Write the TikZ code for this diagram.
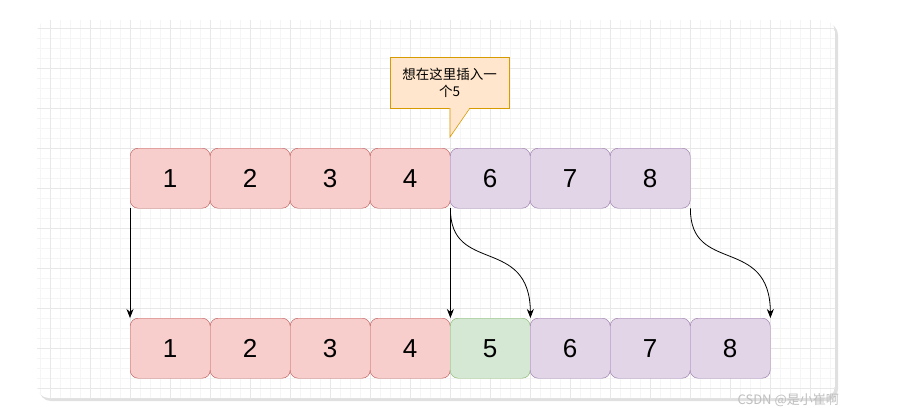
\documentclass[tikz,border=0pt]{standalone}
\usepackage{fontspec}
\setmainfont{Liberation Sans}
\newfontfamily\cjk{Noto Sans CJK SC}
\usetikzlibrary{arrows.meta}
\definecolor{redf}{HTML}{F8CECC}\definecolor{redd}{HTML}{B85450}
\definecolor{purf}{HTML}{E1D5E7}\definecolor{purd}{HTML}{9673A6}
\definecolor{grnf}{HTML}{D5E8D4}\definecolor{grnd}{HTML}{82B366}
\definecolor{orf}{HTML}{FFE6CC}\definecolor{ord}{HTML}{D79B00}
\tikzset{
 cell/.style={draw,minimum width=80pt,minimum height=60pt,rounded corners=8pt,inner sep=0pt,font=\fontsize{26}{28}\selectfont,anchor=north west},
 rc/.style={cell,fill=redf,draw=redd},
 pc/.style={cell,fill=purf,draw=purd},
 gc/.style={cell,fill=grnf,draw=grnd},
 arr/.style={-{Stealth[length=9pt,width=7pt]},line width=0.8pt}
}
\begin{document}
\begin{tikzpicture}[x=1pt,y=-1pt]
\useasboundingbox (0,0) rectangle (921,408);
\fill[white] (0,0) rectangle (921,408);
\fill[black!12,rounded corners=12pt] (39,23) rectangle (838,401);
\begin{scope}
\clip[rounded corners=12pt] (37,20) rectangle (835,398);
\fill[white] (37,20) rectangle (835,398);
\foreach \k in {0,...,81} \draw[black!4,line width=0.5pt] (30+10*\k,18) -- (30+10*\k,400);
\foreach \k in {0,...,38} \draw[black!4,line width=0.5pt] (30,18+10*\k) -- (840,18+10*\k);
\foreach \k in {0,...,20} \draw[black!9,line width=0.6pt] (50+40*\k,18) -- (50+40*\k,400);
\foreach \k in {0,...,9} \draw[black!9,line width=0.6pt] (30,28+40*\k) -- (840,28+40*\k);
\end{scope}
\foreach \i/\t/\s in {0/1/rc,1/2/rc,2/3/rc,3/4/rc,4/6/pc,5/7/pc,6/8/pc}
  \node[\s] (t\i) at (130+80*\i,148) {\t};
\foreach \i/\t/\s in {0/1/rc,1/2/rc,2/3/rc,3/4/rc,4/5/gc,5/6/pc,6/7/pc,7/8/pc}
  \node[\s] (b\i) at (130+80*\i,318) {\t};
\node[draw=ord,fill=orf,minimum width=119pt,minimum height=51pt,anchor=north west,inner sep=2pt,align=center,font=\cjk\fontsize{13.5}{17}\selectfont] (call) at (390,57) {想在这里插入一\\个5};
\coordinate (tip) at (450,137);
\fill[orf] (449.5,107) -- (tip) -- (470,107.3) -- cycle;
\draw[ord,line width=0.6pt] (450,108) -- (tip) -- (470,108);
\fill[orf] (450.4,106) rectangle (469.6,108.2);
\draw[arr] (t0.south west) -- (b0.north west);
\draw[arr] (t3.south east) -- (b3.north east);
\draw[arr] (t3.south east) .. controls (450,275) and (530,235) .. (b4.north east);
\draw[arr] (t6.south east) .. controls (690,275) and (770,235) .. (b7.north east);
\node[font=\cjk\fontsize{13}{15}\selectfont,text=black!25,anchor=south east,inner sep=1pt] (wm) at (840,408) {CSDN @是小崔啊};
\end{tikzpicture}
\end{document}
